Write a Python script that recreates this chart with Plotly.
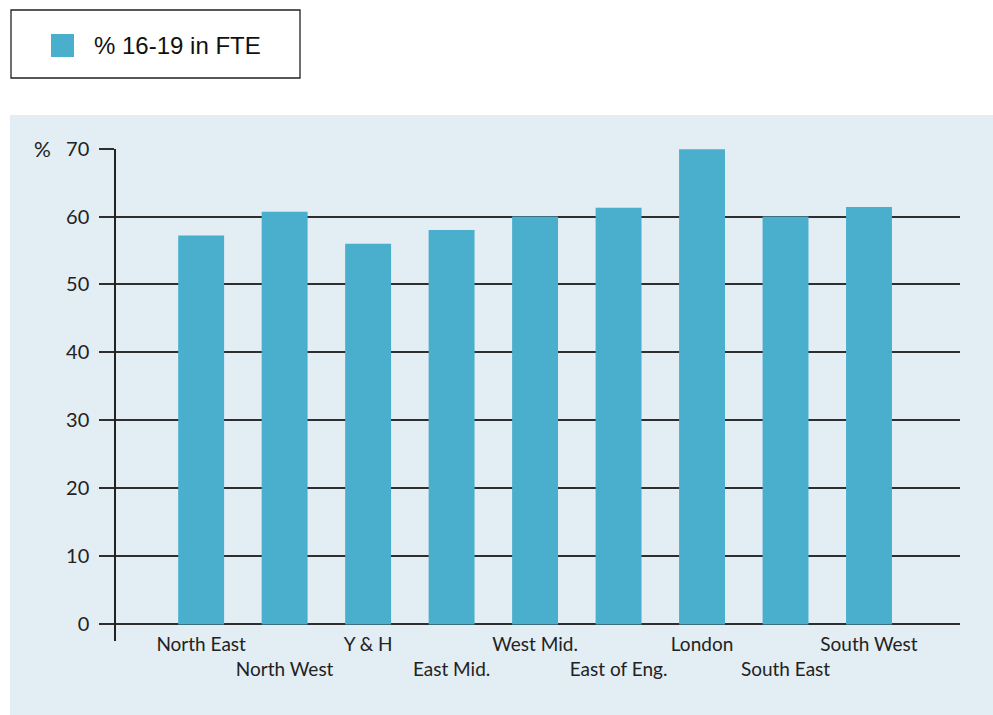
import plotly.graph_objects as go

# Share of 16-19 year olds in full-time education, by English region
regions = ["North East", "North West", "Y & H", "East Mid.", "West Mid.",
           "East of Eng.", "London", "South East", "South West"]
pct_fte = [57.2, 60.7, 56.0, 58.0, 60.0, 61.3, 69.9, 60.0, 61.4]
y_ticks = [0, 10, 20, 30, 40, 50, 60, 70]
series_name = "% 16-19 in FTE"

W, H = 993, 715
BAR = "#4aafcd"
PANEL = "#e2edf4"
INK = "#222222"
CAT_FONT = "Lato"

# alternate category labels onto two rows
tick_text = [r if i % 2 == 0 else "<br>" + r for i, r in enumerate(regions)]

fig = go.Figure()
fig.add_trace(go.Bar(
    x=list(range(len(regions))), y=pct_fte, name=series_name,
    marker=dict(color=BAR, line=dict(width=0)), width=0.55,
    showlegend=False,
))

def px_x(p):
    return p / W

def px_y(p):
    return 1 - p / H

fig.update_layout(
    width=W, height=H,
    margin=dict(l=0, r=0, t=0, b=0, autoexpand=False),
    paper_bgcolor="white",
    plot_bgcolor="rgba(0,0,0,0)",
    showlegend=False,
    xaxis=dict(
        domain=[px_x(116), px_x(960)],
        range=[-1.02, 9.09],
        tickmode="array",
        tickvals=list(range(len(regions))),
        ticktext=tick_text,
        tickangle=0,
        automargin=False,
        tickfont=dict(family=CAT_FONT, size=19, color=INK),
        showgrid=False, zeroline=False,
        showline=False, ticks="",
        ticklabelstandoff=-10,
    ),
    yaxis=dict(
        domain=[px_y(641), px_y(148.5)],
        range=[-2.43, 70],
        tickmode="array",
        tickvals=y_ticks,
        automargin=False,
        tickfont=dict(family=CAT_FONT, size=20, color=INK),
        showgrid=True, gridcolor="#2e2e2e", gridwidth=1.6,
        zeroline=False,
        showline=True, linecolor=INK, linewidth=1.5,
        ticks="outside", ticklen=15, tickcolor="#2e2e2e", tickwidth=1.6,
        ticklabelstandoff=6,
    ),
    shapes=[
        # tinted chart panel
        dict(type="rect", xref="paper", yref="paper", layer="below",
             x0=px_x(10), x1=1, y0=0, y1=px_y(115),
             fillcolor=PANEL, line=dict(width=0)),
        # legend frame
        dict(type="rect", xref="paper", yref="paper",
             x0=px_x(11), x1=px_x(300), y0=px_y(78), y1=px_y(10),
             fillcolor="white", line=dict(color=INK, width=1.3)),
        # legend swatch
        dict(type="rect", xref="paper", yref="paper",
             x0=px_x(51), x1=px_x(74), y0=px_y(57), y1=px_y(34),
             fillcolor=BAR, line=dict(width=0)),
    ],
    annotations=[
        dict(text=series_name, xref="paper", yref="paper",
             x=px_x(92), y=px_y(45.5), xanchor="left", yanchor="middle",
             showarrow=False,
             font=dict(family="Liberation Sans, Arial", size=24, color="#111111")),
        dict(text="%", xref="paper", yref="paper",
             x=px_x(53), y=px_y(148), xanchor="right", yanchor="middle",
             showarrow=False,
             font=dict(family=CAT_FONT, size=21, color=INK)),
    ],
)

fig.write_html("out.html")
